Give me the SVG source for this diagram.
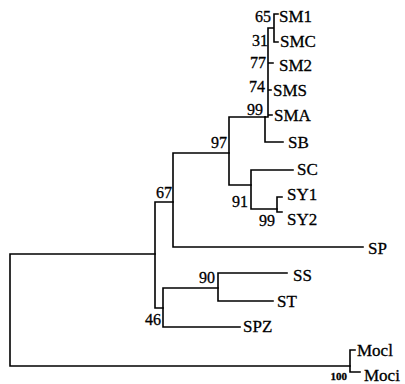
<svg xmlns="http://www.w3.org/2000/svg" width="405" height="384" viewBox="0 0 405 384">
<style>
.e{stroke:#000;stroke-width:1.6;fill:none;stroke-linecap:square}
.l{font-family:"Liberation Serif",serif;font-size:17px;fill:#000;stroke:#000;stroke-width:0.3}
.b{font-family:"Liberation Serif",serif;font-size:16px;fill:#000;stroke:#000;stroke-width:0.3;text-anchor:end}
</style>
<rect width="405" height="384" fill="#fff"/>
<g id="connectors">
<path class="e" d="M10,254V366M10,254H155M10,366H350"/>
<path class="e" d="M155,202V308M155,202H173M155,308H163"/>
<path class="e" d="M173,153V247M173,153H229M173,247H363"/>
<path class="e" d="M229,117V185M229,117H265M229,185H251"/>
<path class="e" d="M265,117V142M265,142H283"/>
<path class="e" d="M265,117H268M268,28V117M268,115H272M268,90H271M268,63H273M268,28H274M274,14V42M274,14H278M274,42H278"/>
<path class="e" d="M251,170V209M251,170H293M251,209H277"/>
<path class="e" d="M277,197V212M277,197H282M277,212H282"/>
<path class="e" d="M163,288V327M163,288H218M163,327H240"/>
<path class="e" d="M218,273V301M218,273H287M218,301H273"/>
<path class="e" d="M350,350V372M350,350H355M350,372H360"/>
</g>
<g id="n-SM1"><text class="l" x="279" y="22">SM1</text></g>
<g id="n-SMC"><text class="l" x="280" y="47">SMC</text></g>
<g id="n-SM2"><text class="l" x="279" y="71">SM2</text></g>
<g id="n-SMS"><text class="l" x="273" y="96">SMS</text></g>
<g id="n-SMA"><text class="l" x="274" y="121">SMA</text></g>
<g id="n-SB"><text class="l" x="288" y="148">SB</text></g>
<g id="n-SC"><text class="l" x="297" y="175">SC</text></g>
<g id="n-SY1"><text class="l" x="287" y="200">SY1</text></g>
<g id="n-SY2"><text class="l" x="287" y="225">SY2</text></g>
<g id="n-SP"><text class="l" x="368" y="254">SP</text></g>
<g id="n-SS"><text class="l" x="293" y="281">SS</text></g>
<g id="n-ST"><text class="l" x="277" y="307">ST</text></g>
<g id="n-SPZ"><text class="l" x="243" y="332">SPZ</text></g>
<g id="n-Mocl"><text class="l" x="357" y="356">Mocl</text></g>
<g id="n-Moci"><text class="l" x="364" y="381">Moci</text></g>
<g id="bootstrap">
<text class="b" x="271" y="22">65</text>
<text class="b" x="268" y="46">31</text>
<text class="b" x="266" y="68">77</text>
<text class="b" x="265" y="92">74</text>
<text class="b" x="263" y="115">99</text>
<text class="b" x="227" y="148">97</text>
<text class="b" x="248" y="207">91</text>
<text class="b" x="275" y="226">99</text>
<text class="b" x="172" y="198">67</text>
<text class="b" x="215" y="283">90</text>
<text class="b" x="161" y="325">46</text>
<text class="b" x="347" y="380" style="font-size:11px;font-weight:bold">100</text>
</g>
</svg>
